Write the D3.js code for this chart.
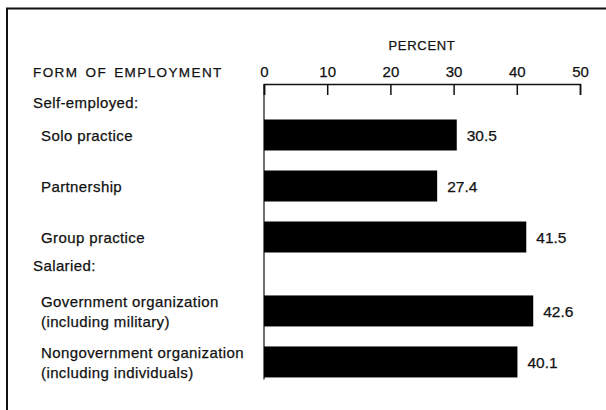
<!DOCTYPE html>
<html>
<head>
<meta charset="utf-8">
<title>Form of employment</title>
<style>
    body { margin: 0; background: #fff; }
    text { font-family: "Liberation Sans", Arial, sans-serif; fill: #111; stroke: #111; stroke-width: 0.25px; }
</style>
</head>
<body>
<svg width="606" height="410"></svg>
<script src="https://d3js.org/d3.v7.min.js"></script>
<script>
    // data
    const groups = ['Self-employed:', 'Salaried:'];
    const categories = [
        ['Solo practice'],
        ['Partnership'],
        ['Group practice'],
        ['Government organization', '(including military)'],
        ['Nongovernment organization', '(including individuals)']
    ];
    const groupOf = [0, 0, 0, 1, 1];
    const values = [30.5, 27.4, 41.5, 42.6, 40.1];
    const ticks = [0, 10, 20, 30, 40, 50];

    const svg = d3.select('svg');

    // frame (top and left only)
    svg.append('path')
        .attr('d', 'M7,410 V8.5 H606')
        .attr('fill', 'none')
        .attr('stroke', '#111')
        .attr('stroke-width', 2);

    const xScale = d3.scaleLinear().domain([0, 50]).range([264, 580]);

    // row position: index plus extra space for each group header
    const rowOf = i => i + groupOf[i] * 0.45;
    const yScale = d3.scaleLinear().domain([0, 1]).range([135, 186]);
    const barH = 31;

    // axis on top, ticks pointing down
    const axis = d3.axisTop(xScale)
        .tickValues(ticks)
        .tickSize(-11)
        .tickSizeOuter(-11)
        .tickPadding(7)
        .tickFormat(d3.format('d'));
    const ax = svg.append('g')
        .attr('transform', 'translate(0,84)')
        .call(axis);
    ax.select('.domain').attr('stroke', '#111').attr('stroke-width', 1.5);
    ax.selectAll('.tick line').attr('stroke', '#111').attr('stroke-width', 1.5);
    ax.selectAll('.tick text')
        .attr('font-size', 15)
        .attr('font-family', '"Liberation Sans", Arial, sans-serif')
        .attr('fill', '#111');

    // baseline
    svg.append('line')
        .attr('x1', xScale(0)).attr('x2', xScale(0))
        .attr('y1', 84).attr('y2', yScale(rowOf(4)) + barH / 2 + 2)
        .attr('stroke', '#111').attr('stroke-width', 1.2);

    svg.append('text')
        .attr('x', xScale(25)).attr('y', 50)
        .attr('text-anchor', 'middle')
        .attr('font-size', 13)
        .attr('letter-spacing', 0.7)
        .text('PERCENT');

    svg.append('text')
        .attr('x', 33).attr('y', 77)
        .attr('font-size', 13.5)
        .attr('letter-spacing', 1.4)
        .attr('word-spacing', 2)
        .text('FORM OF EMPLOYMENT');

    // group headers
    const headerRow = [rowOf(0) - 0.64, rowOf(3) - 0.9];
    svg.selectAll('text.group').data(groups)
        .enter().append('text')
        .attr('class', 'group')
        .attr('x', 33)
        .attr('y', (d, i) => yScale(headerRow[i]) + 6)
        .attr('font-size', 15)
        .attr('letter-spacing', 0.4)
        .text(d => d);

    // bars
    svg.selectAll('rect').data(values)
        .enter().append('rect')
        .attr('x', xScale(0))
        .attr('y', (d, i) => yScale(rowOf(i)) - barH / 2)
        .attr('width', d => xScale(d) - xScale(0))
        .attr('height', barH)
        .attr('fill', '#000');

    // value labels
    svg.selectAll('text.val').data(values)
        .enter().append('text')
        .attr('class', 'val')
        .attr('x', d => xScale(d) + 10)
        .attr('y', (d, i) => yScale(rowOf(i)) + 6)
        .attr('font-size', 15.5)
        .text(d => d.toFixed(1));

    // category labels
    categories.forEach((lines, i) => {
        const t = svg.append('text')
            .attr('font-size', 15)
            .attr('letter-spacing', 0.4);
        const y0 = yScale(rowOf(i)) + 6 - (lines.length - 1) * 10;
        lines.forEach((s, j) => {
            t.append('tspan')
                .attr('x', 41)
                .attr('y', y0 + j * 20)
                .text(s);
        });
    });
</script>
</body>
</html>
